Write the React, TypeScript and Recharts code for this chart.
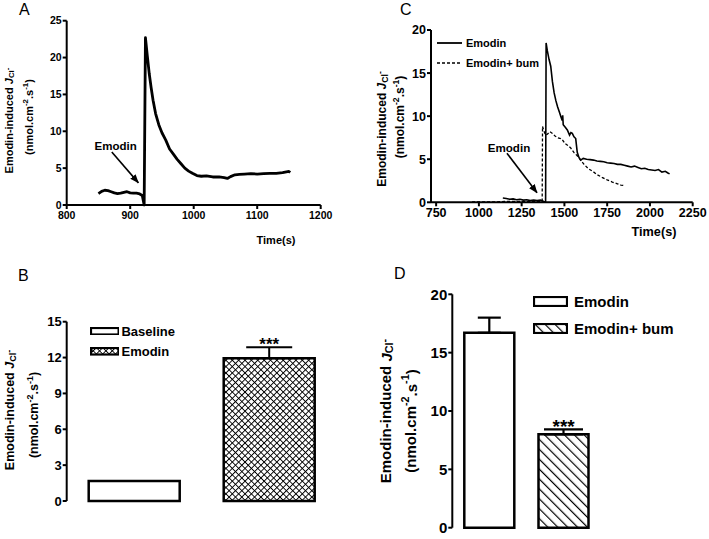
import {
  LineChart,
  Line,
  BarChart,
  Bar,
  ErrorBar,
  XAxis,
  YAxis,
  ReferenceLine,
  ReferenceDot,
  Legend,
} from 'recharts';

const W = 709;
const H = 539;
const FONT = '"Liberation Sans", Arial, sans-serif';

// Panel A: emodin-induced current over time
const timeA = [
  850, 855, 860, 865, 870, 875, 880, 885, 890, 895, 900, 905, 910, 915, 919, 922,
  924, 927, 930, 933, 936, 940, 945, 950, 956, 962, 968, 974, 980, 986, 992, 998,
  1005, 1012, 1020, 1030, 1040, 1048, 1053, 1058, 1065, 1072, 1080, 1090, 1100,
  1110, 1120, 1130, 1140, 1146, 1150, 1152,
];
const fluxA = [
  1.55, 1.85, 2.0, 1.95, 1.8, 1.65, 1.55, 1.6, 1.7, 1.8, 1.65, 1.6, 1.6, 1.5, 1.3, 0,
  22.7, 20.2, 17.8, 15.9, 14.2, 12.4, 10.9, 9.8, 8.8, 7.6, 6.9, 6.2, 5.6, 5.0, 4.6, 4.3,
  4.0, 3.9, 3.95, 3.8, 3.8, 3.7, 3.6, 3.85, 4.1, 4.15, 4.2, 4.25, 4.2,
  4.25, 4.3, 4.3, 4.4, 4.5, 4.55, 4.4,
];
const ticksA = [800, 900, 1000, 1100, 1200];
const yTicksA = [0, 5, 10, 15, 20, 25];

// Panel C: emodin vs emodin + bumetanide
const timeEmo = [
  1140, 1160, 1180, 1200, 1220, 1240, 1260, 1280, 1300, 1320, 1340, 1360, 1380, 1390,
  1393, 1400, 1410, 1420, 1430, 1440, 1450, 1460, 1470, 1480, 1487, 1490, 1493, 1505,
  1517, 1530, 1538, 1546, 1556, 1566, 1575, 1585, 1595, 1610, 1630, 1650, 1670, 1690,
  1710, 1730, 1750, 1770, 1790, 1810, 1830, 1850, 1870, 1890, 1910, 1930, 1950, 1970,
  1990, 2010, 2030, 2050, 2070, 2090, 2105, 2115,
];
const fluxEmo = [
  0.5, 0.45, 0.35, 0.4, 0.3, 0.35, 0.25, 0.3, 0.2, 0.25, 0.2, 0.25, 0.1, 0.05,
  18.5, 17.6, 16.6, 15.8, 14.0, 12.7, 11.8, 11.1, 10.5, 9.9, 9.5, 10.1, 9.0, 8.7,
  8.4, 7.8, 8.1, 8.0, 7.6, 7.4, 5.8, 5.2, 4.9, 5.1, 5.0, 4.95, 4.9, 4.8,
  4.75, 4.7, 4.6, 4.55, 4.5, 4.4, 4.4, 4.3, 4.2, 4.1, 4.2, 4.05, 3.9, 3.95,
  3.8, 3.75, 3.7, 3.8, 3.5, 3.6, 3.4, 3.3,
];
const timeBum = [
  960, 1000, 1050, 1100, 1150, 1200, 1250, 1300, 1350, 1370, 1372, 1380, 1390, 1400,
  1415, 1430, 1445, 1460, 1478, 1490, 1505, 1520, 1537, 1555, 1575, 1595, 1615, 1640,
  1665, 1692, 1720, 1750, 1780, 1810, 1830, 1845,
];
const fluxBum = [
  0.05, 0.05, 0.05, 0.05, 0.1, 0.1, 0.1, 0.1, 0.1, 0.1, 8.8, 8.3, 7.8, 7.9,
  8.2, 8.0, 7.7, 7.5, 7.4, 7.2, 6.8, 6.6, 6.3, 5.8, 5.4, 4.9, 4.4, 3.9,
  3.6, 3.2, 2.9, 2.6, 2.35, 2.15, 2.0, 1.95,
];
const ticksC = [750, 1000, 1250, 1500, 1750, 2000, 2250];
const yTicksC = [0, 5, 10, 15, 20];
const seriesC = ['Emodin', 'Emodin+ bum'];

// Panel B: baseline vs emodin
const catB = ['Baseline', 'Emodin'];
const keyB = ['base', 'emo'];
const meanB = [1.67, 11.94];
const semB = [0, 0.92];
const yTicksB = [0, 3, 6, 9, 12, 15];

// Panel D: emodin vs emodin + bumetanide
const catD = ['Emodin', 'Emodin+ bum'];
const keyD = ['emo', 'bum'];
const meanD = [16.7, 8.0];
const semD = [1.3, 0.43];
const yTicksD = [0, 5, 10, 15, 20];

const dataA = timeA.map((t, i) => ({ t, v: fluxA[i] }));
const dataEmo = timeEmo.map((t, i) => ({ t, v: fluxEmo[i] }));
const dataBum = timeBum.map((t, i) => ({ t, v: fluxBum[i] }));
const dataB = catB.map((name, i) => ({
  name,
  [keyB[i]]: meanB[i],
  [keyB[i] + 'Err']: semB[i] ? [0, semB[i]] : undefined,
}));
const dataD = catD.map((name, i) => ({
  name,
  [keyD[i]]: meanD[i],
  [keyD[i] + 'Err']: [0, semD[i]],
}));

const axis = { stroke: '#000', strokeWidth: 2 };
const tickFont = (size: number) => ({
  fill: '#000',
  fontSize: size,
  fontWeight: 'bold',
  fontFamily: FONT,
});

// rotated two-line y axis title, J_Cl- on first line
function yTitle(x1: number, y1: number, x2: number, y2: number, size: number) {
  const s = size * 0.72;
  return () => (
    <g fontFamily={FONT} fontWeight="bold" fontSize={size} fill="#000">
      <text transform={`translate(${x1},${y1}) rotate(-90)`} textAnchor="middle" dominantBaseline="central">
        Emodin-induced <tspan fontStyle="italic">J</tspan>
        <tspan fontSize={s} dy={size * 0.25}>Cl</tspan>
        <tspan fontSize={s} dy={-size * 0.35}>-</tspan>
      </text>
      <text transform={`translate(${x2},${y2}) rotate(-90)`} textAnchor="middle" dominantBaseline="central">
        (nmol.cm<tspan fontSize={s} dy={-size * 0.35}>-2</tspan>
        <tspan dy={size * 0.35}>.s</tspan>
        <tspan fontSize={s} dy={-size * 0.35}>-1</tspan>
        <tspan dy={size * 0.35}>)</tspan>
      </text>
    </g>
  );
}

function xTitle(x: number, y: number, size: number) {
  return () => (
    <text x={x} y={y} textAnchor="middle" dominantBaseline="central" fontFamily={FONT} fontWeight="bold" fontSize={size} fill="#000">
      Time(s)
    </text>
  );
}

function noteLabel(size: number) {
  return (p: any) => (
    <text x={p.viewBox.x + (p.viewBox.width || 0) / 2} y={p.viewBox.y} textAnchor="middle" dominantBaseline="central" fontFamily={FONT} fontWeight="bold" fontSize={size} fill="#000">
      Emodin
    </text>
  );
}

function starLabel(size: number, drop: number) {
  return (p: any) => (
    <text x={p.viewBox.x + (p.viewBox.width || 0) / 2} y={p.viewBox.y + drop} textAnchor="middle" fontFamily={FONT} fontWeight="bold" fontSize={size} fill="#000">
      ***
    </text>
  );
}

const arrow = (p: any) => (
  <line x1={p.x1} y1={p.y1} x2={p.x2} y2={p.y2} stroke="#000" strokeWidth={1.6} markerEnd="url(#arrowHead)" />
);

function boxLegend(boxW: number, boxH: number, rowH: number, gap: number, size: number) {
  return (props: any) => (
    <div style={{ fontFamily: FONT, fontWeight: 'bold', fontSize: size, color: '#000' }}>
      {(props.payload || []).map((e: any) => (
        <div key={e.value} style={{ display: 'flex', alignItems: 'center', height: rowH, whiteSpace: 'nowrap' }}>
          <svg width={boxW + 2} height={boxH + 2} style={{ marginRight: gap }}>
            <rect x={1} y={1} width={boxW} height={boxH} fill={e.color} stroke="#000" strokeWidth={2.2} />
          </svg>
          <span>{e.value}</span>
        </div>
      ))}
    </div>
  );
}

const lineLegend = () => (
  <div style={{ fontFamily: FONT, fontWeight: 'bold', fontSize: 11, color: '#000' }}>
    {seriesC.map((name, i) => (
      <div key={name} style={{ display: 'flex', alignItems: 'center', height: 19.4, whiteSpace: 'nowrap' }}>
        <svg width={25} height={6} style={{ marginRight: 4 }}>
          <line x1={0} y1={3} x2={25} y2={3} stroke="#000" strokeWidth={i ? 1.4 : 1.8} strokeDasharray={i ? '3 2' : undefined} />
        </svg>
        <span>{name}</span>
      </div>
    ))}
  </div>
);

const layer = { position: 'absolute' as const, left: 0, top: 0 };

export default function App() {
  return (
    <div style={{ position: 'absolute', left: 0, top: 0, width: W, height: H, background: '#fff', overflow: 'hidden' }}>
      <svg width={0} height={0} style={{ position: 'absolute' }}>
        <defs>
          <pattern id="xhatch" width={4.5} height={4.5} patternUnits="userSpaceOnUse" patternTransform="rotate(45)">
            <rect width={4.5} height={4.5} fill="#fff" />
            <path d="M0 0 H4.5 M0 0 V4.5" stroke="#000" strokeWidth={1.9} />
          </pattern>
          <pattern id="hatch" width={7} height={7} patternUnits="userSpaceOnUse" patternTransform="rotate(-45)">
            <rect width={7} height={7} fill="#fff" />
            <line x1={0} y1={0} x2={0} y2={7} stroke="#000" strokeWidth={2.4} />
          </pattern>
          <marker id="arrowHead" markerWidth={9} markerHeight={7} refX={8.5} refY={3.5} orient="auto" markerUnits="userSpaceOnUse">
            <path d="M0 0 L9 3.5 L0 7 z" fill="#000" />
          </marker>
        </defs>
      </svg>

      {/* A */}
      <div style={layer}>
        <LineChart width={W} height={H} data={dataA} margin={{ top: 20.7, right: 388.3, bottom: 304, left: 26.7 }}>
          <XAxis dataKey="t" type="number" domain={[800, 1200]} ticks={ticksA} allowDataOverflow height={30}
            axisLine={axis} tickLine={axis} tickSize={4} tickMargin={3} tick={tickFont(10.5)} label={xTitle(276, 240, 11)} />
          <YAxis type="number" domain={[0, 25]} ticks={yTicksA} width={40}
            axisLine={axis} tickLine={axis} tickSize={4} tickMargin={1} tick={tickFont(10.5)} label={yTitle(8.5, 120.5, 29, 117, 11)} />
          <Line dataKey="v" stroke="#000" strokeWidth={2.8} dot={false} isAnimationActive={false} strokeLinejoin="round" />
          <ReferenceLine segment={[{ x: 871, y: 7.2 }, { x: 913, y: 3.0 }]} shape={arrow} />
          <ReferenceDot x={877} y={8.0} r={0} fill="none" stroke="none" label={noteLabel(11.5)} />
        </LineChart>
      </div>

      {/* C */}
      <div style={layer}>
        <LineChart width={W} height={H} margin={{ top: 30, right: 16.3, bottom: 306.7, left: 391 }}>
          <XAxis dataKey="t" type="number" domain={[720, 2250]} ticks={ticksC} allowDataOverflow height={30}
            axisLine={axis} tickLine={axis} tickSize={4} tickMargin={2} tick={tickFont(12.5)} label={xTitle(654, 231.7, 12.7)} />
          <YAxis type="number" domain={[0, 20]} ticks={yTicksC} width={40}
            axisLine={axis} tickLine={axis} tickSize={4} tickMargin={1} tick={tickFont(12.5)} label={yTitle(381.5, 129, 400, 117, 12)} />
          <Line data={dataBum} dataKey="v" name={seriesC[1]} stroke="#000" strokeWidth={1.3} strokeDasharray="3 2" dot={false} isAnimationActive={false} />
          <Line data={dataEmo} dataKey="v" name={seriesC[0]} stroke="#000" strokeWidth={1.6} dot={false} isAnimationActive={false} />
          <ReferenceLine segment={[{ x: 1164, y: 5.7 }, { x: 1340, y: 1.1 }]} shape={arrow} />
          <ReferenceDot x={1176} y={6.4} r={0} fill="none" stroke="none" label={noteLabel(11.6)} />
          <Legend verticalAlign="middle" align="center" content={lineLegend}
            wrapperStyle={{ left: 437, top: 33.6, width: 150, height: 40 }} />
        </LineChart>
      </div>

      {/* B */}
      <div style={layer}>
        <BarChart width={W} height={H} data={dataB} margin={{ top: 321.7, right: 372.3, bottom: 38, left: 26.7 }}>
          <XAxis dataKey="name" height={0} tick={false} tickLine={false} axisLine={axis} />
          <YAxis type="number" domain={[0, 15]} ticks={yTicksB} width={40}
            axisLine={axis} tickLine={axis} tickSize={4} tickMargin={1} tick={tickFont(13)} label={yTitle(10, 410, 34, 415, 12.5)} />
          <Bar dataKey="base" name={catB[0]} stackId="s" barSize={91} fill="#fff" stroke="#000" strokeWidth={2.5} isAnimationActive={false} />
          <Bar dataKey="emo" name={catB[1]} stackId="s" barSize={91} fill="url(#xhatch)" stroke="#000" strokeWidth={2.5} isAnimationActive={false}>
            <ErrorBar dataKey="emoErr" width={23} stroke="#000" strokeWidth={2} direction="y" isAnimationActive={false} />
          </Bar>
          <ReferenceDot x="Emodin" y={meanB[1] + semB[1]} r={0} fill="none" stroke="none" ifOverflow="visible" label={starLabel(17, 2.6)} />
          <Legend verticalAlign="middle" align="center" content={boxLegend(27.6, 6.5, 20.5, 2.4, 13)}
            wrapperStyle={{ left: 89.5, top: 320.75, width: 120, height: 42 }} />
        </BarChart>
      </div>

      {/* D */}
      <div style={layer}>
        <BarChart width={W} height={H} data={dataD} margin={{ top: 294.3, right: 108.3, bottom: 11.3, left: 412.3 }}>
          <XAxis dataKey="name" height={0} tick={false} tickLine={false} axisLine={axis} />
          <YAxis type="number" domain={[0, 20]} ticks={yTicksD} width={40}
            axisLine={axis} tickLine={axis} tickSize={4} tickMargin={1} tick={tickFont(15)} label={yTitle(385.5, 411, 410.5, 421, 15)} />
          <Bar dataKey="emo" name={catD[0]} stackId="s" barSize={50} fill="#fff" stroke="#000" strokeWidth={2.5} isAnimationActive={false}>
            <ErrorBar dataKey="emoErr" width={11.5} stroke="#000" strokeWidth={2.2} direction="y" isAnimationActive={false} />
          </Bar>
          <Bar dataKey="bum" name={catD[1]} stackId="s" barSize={50} fill="url(#hatch)" stroke="#000" strokeWidth={2.5} isAnimationActive={false}>
            <ErrorBar dataKey="bumErr" width={19.5} stroke="#000" strokeWidth={2.2} direction="y" isAnimationActive={false} />
          </Bar>
          <ReferenceDot x="Emodin+ bum" y={meanD[1] + semD[1]} r={0} fill="none" stroke="none" ifOverflow="visible" label={starLabel(19, 3.4)} />
          <Legend verticalAlign="middle" align="center" content={boxLegend(33, 9, 26.7, 6, 15)}
            wrapperStyle={{ left: 533, top: 288, width: 170, height: 54 }} />
        </BarChart>
      </div>

      <svg width={W} height={H} style={{ ...layer, pointerEvents: 'none' }} fontFamily={FONT} fontSize={16} fill="#000">
        <text x={19} y={15}>A</text>
        <text x={400} y={15}>C</text>
        <text x={18} y={281}>B</text>
        <text x={394} y={279}>D</text>
      </svg>
    </div>
  );
}
